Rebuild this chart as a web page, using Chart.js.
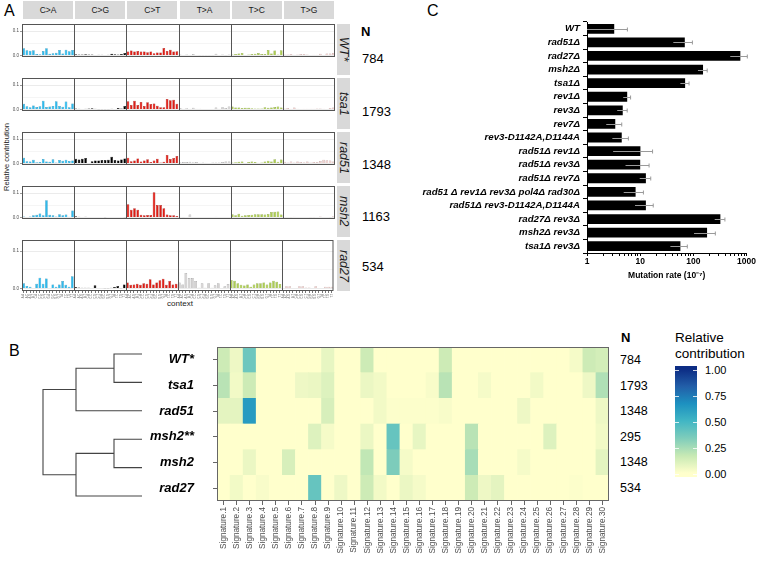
<!DOCTYPE html>
<html>
<head>
<meta charset="utf-8">
<script src="https://cdn.jsdelivr.net/npm/chart.js@4.4.0/dist/chart.umd.min.js"></script>
<style>
body { margin: 0; background: #fff; font-family: "Liberation Sans", Arial, sans-serif; }
#fig { position: relative; width: 757px; height: 561px; overflow: hidden; }
#fig canvas, #fig .t { position: absolute; }
.t { white-space: nowrap; color: #000; line-height: 1; }
</style>
</head>
<body>
<div id="fig"></div>
<script>
// ---- panel A: 96-channel spectra ----
const mutTypes = ['C>A', 'C>G', 'C>T', 'T>A', 'T>C', 'T>G'];
const contexts = ['A.A','A.C','A.G','A.T','C.A','C.C','C.G','C.T','G.A','G.C','G.G','G.T','T.A','T.C','T.G','T.T'];
const spectraNames = ['WT*', 'tsa1', 'rad51', 'msh2', 'rad27'];
const spectraN = [784, 1793, 1348, 1163, 534];

const specWT = [
  0.030,0.021,0.019,0.021,0.006,0.005,0.018,0.030,0.007,0.009,0.011,0.022,0.008,0.024,0.017,0.022,
  0.005,0.004,0.004,0.005,0.004,0.004,0.002,0.003,0.003,0.002,0.003,0.007,0.005,0.004,0.006,0.010,
  0.016,0.020,0.016,0.018,0.016,0.016,0.013,0.016,0.009,0.012,0.012,0.031,0.018,0.024,0.016,0.017,
  0.004,0.002,0.004,0.003,0.006,0.002,0.001,0.001,0.001,0.001,0.001,0.007,0.002,0.004,0.001,0.004,
  0.004,0.006,0.008,0.010,0.002,0.004,0.006,0.007,0.010,0.006,0.006,0.022,0.008,0.020,0.004,0.021,
  0.004,0.004,0.006,0.003,0.004,0.006,0.006,0.004,0.002,0.003,0.003,0.007,0.002,0.008,0.008,0.010];
const specTsa1 = [
  0.023,0.013,0.009,0.016,0.010,0.013,0.036,0.010,0.012,0.014,0.034,0.014,0.011,0.033,0.009,0.025,
  0.004,0.003,0.002,0.003,0.004,0.005,0.003,0.001,0.001,0.001,0.001,0.003,0.002,0.006,0.004,0.014,
  0.034,0.018,0.036,0.018,0.031,0.014,0.030,0.022,0.025,0.015,0.009,0.009,0.043,0.038,0.040,0.023,
  0.006,0.003,0.005,0.003,0.007,0.003,0.003,0.002,0.002,0.002,0.002,0.008,0.003,0.009,0.006,0.012,
  0.012,0.008,0.008,0.006,0.007,0.007,0.005,0.004,0.004,0.004,0.009,0.007,0.008,0.010,0.012,0.008,
  0.004,0.006,0.003,0.008,0.003,0.002,0.003,0.003,0.003,0.003,0.004,0.004,0.003,0.002,0.006,0.008];
const specRad51 = [
  0.023,0.009,0.008,0.015,0.005,0.006,0.018,0.008,0.007,0.017,0.004,0.014,0.011,0.015,0.010,0.012,
  0.019,0.016,0.019,0.022,0.002,0.009,0.012,0.012,0.014,0.014,0.015,0.028,0.014,0.012,0.016,0.020,
  0.023,0.009,0.012,0.020,0.008,0.012,0.017,0.006,0.012,0.019,0.004,0.007,0.035,0.018,0.022,0.031,
  0.005,0.006,0.006,0.007,0.005,0.006,0.003,0.004,0.003,0.002,0.004,0.004,0.004,0.006,0.008,0.008,
  0.004,0.005,0.007,0.008,0.002,0.006,0.008,0.006,0.003,0.004,0.008,0.011,0.008,0.017,0.007,0.016,
  0.007,0.004,0.008,0.004,0.008,0.006,0.005,0.008,0.004,0.006,0.006,0.010,0.015,0.013,0.012,0.008];
const specMsh2 = [
  0.004,0.000,0.004,0.009,0.011,0.016,0.009,0.071,0.011,0.009,0.004,0.013,0.009,0.012,0.003,0.029,
  0.005,0.003,0.002,0.003,0.000,0.000,0.000,0.000,0.002,0.001,0.000,0.000,0.000,0.000,0.000,0.001,
  0.054,0.032,0.038,0.032,0.011,0.009,0.010,0.010,0.104,0.051,0.051,0.038,0.012,0.009,0.009,0.006,
  0.003,0.001,0.000,0.012,0.000,0.000,0.000,0.000,0.000,0.002,0.000,0.003,0.002,0.000,0.000,0.000,
  0.013,0.009,0.015,0.007,0.009,0.010,0.011,0.013,0.013,0.013,0.012,0.014,0.022,0.023,0.025,0.012,
  0.000,0.000,0.001,0.003,0.000,0.002,0.000,0.000,0.001,0.001,0.000,0.004,0.002,0.000,0.001,0.005];
const specRad27 = [
  0.014,0.007,0.005,0.000,0.013,0.029,0.013,0.027,0.000,0.011,0.005,0.011,0.020,0.010,0.005,0.033,
  0.004,0.003,0.002,0.002,0.002,0.000,0.009,0.000,0.000,0.001,0.001,0.002,0.004,0.007,0.001,0.011,
  0.016,0.010,0.011,0.013,0.010,0.014,0.013,0.025,0.011,0.016,0.022,0.026,0.010,0.020,0.011,0.013,
  0.016,0.011,0.042,0.028,0.028,0.020,0.002,0.014,0.002,0.014,0.002,0.009,0.014,0.000,0.006,0.012,
  0.023,0.021,0.014,0.010,0.008,0.011,0.005,0.011,0.014,0.014,0.016,0.011,0.016,0.021,0.018,0.012,
  0.000,0.006,0.006,0.000,0.000,0.006,0.006,0.003,0.003,0.000,0.006,0.000,0.000,0.005,0.005,0.005];
const spectra = [specWT, specTsa1, specRad51, specMsh2, specRad27];

// ---- panel B: signature contributions ----
const sigLabels = Array.from({ length: 30 }, (_, i) => 'Signature.' + (i + 1));
const hmNames = ['WT*', 'tsa1', 'rad51', 'msh2**', 'msh2', 'rad27'];
const hmN = [784, 1793, 1348, 295, 1348, 534];
const hmWT    = [0.15,0.05,0.38,0,0,0,0,0,0.07,0,0,0.15,0,0,0,0,0,0.15,0,0,0,0,0,0,0,0,0,0.03,0.15,0.13];
const hmTsa1  = [0.20,0.04,0.15,0,0,0,0.05,0.06,0.10,0,0,0.06,0.04,0,0,0,0.02,0.20,0,0,0.03,0,0,0,0.04,0,0,0,0.05,0.22];
const hmRad51 = [0.08,0.08,0.62,0,0,0,0,0,0.12,0,0,0,0.04,0.01,0.01,0.01,0.01,0.02,0,0,0,0,0,0.05,0,0,0,0,0,0.05];
const hmMsh2s = [0,0,0,0,0,0,0,0.10,0.03,0,0,0.06,0,0.40,0,0.07,0,0,0,0.20,0,0,0,0,0,0.10,0,0,0,0.04];
const hmMsh2  = [0,0,0.06,0,0,0.12,0,0,0,0,0,0.18,0,0.34,0.03,0,0,0,0,0.24,0,0,0,0.03,0,0,0,0,0,0.08];
const hmRad27 = [0,0.04,0,0.02,0,0,0,0.40,0,0.05,0,0.15,0.04,0,0.06,0.03,0,0,0,0.15,0.05,0.08,0,0,0,0,0,0.01,0,0];
const hmRows = [hmWT, hmTsa1, hmRad51, hmMsh2s, hmMsh2, hmRad27];
// dendrogram: leaves in row order, merges = [childA, childB, height]; new nodes get ids 6, 7, ...
const dendroMerges = [[0, 1, 0.28], [6, 2, 0.66], [3, 4, 0.28], [8, 5, 0.66], [7, 9, 0.99]];

// ---- panel C: mutation rates ----
const rateStrains = ['WT', 'rad51Δ', 'rad27Δ', 'msh2Δ', 'tsa1Δ', 'rev1Δ', 'rev3Δ', 'rev7Δ',
  'rev3-D1142A,D1144A', 'rad51Δ rev1Δ', 'rad51Δ rev3Δ', 'rad51Δ rev7Δ',
  'rad51 Δ rev1Δ rev3Δ pol4Δ rad30Δ', 'rad51Δ rev3-D1142A,D1144A', 'rad27Δ rev3Δ', 'msh2Δ rev3Δ', 'tsa1Δ rev3Δ'];
const rates   = [3.25, 69, 764, 152, 70, 5.7, 4.7, 3.4, 4.5, 10.1, 10, 12.8, 8.2, 12.8, 322, 181, 57];
const rateErr = [2.5, 27, 270, 30, 13, 0.9, 1.0, 1.1, 1.5, 7, 4.7, 3, 3.3, 4.8, 70, 78, 20];

// ---------------------------------------------------------------
Chart.defaults.font.family = '"Liberation Sans", Arial, sans-serif';
Chart.defaults.animation = false;
Chart.defaults.responsive = false;
Chart.defaults.events = [];
Chart.defaults.plugins.legend.display = false;
Chart.defaults.plugins.tooltip.enabled = false;

const fig = document.getElementById('fig');
function makeCanvas(x, y, w, h) {
  const c = document.createElement('canvas');
  c.width = w; c.height = h;
  c.style.left = x + 'px'; c.style.top = y + 'px';
  c.style.width = w + 'px'; c.style.height = h + 'px';
  fig.appendChild(c);
  return c;
}
function text(str, x, y, css) {
  const d = document.createElement('div');
  d.className = 't';
  d.textContent = str;
  d.style.left = x + 'px';
  d.style.top = y + 'px';
  if (css) d.style.cssText += css;
  fig.appendChild(d);
  return d;
}
// keep tick labels from pushing the plot area around
function noPad(s) { s.paddingTop = 0; s.paddingBottom = 0; }

// ================= A =================
const mutColors = ['#2EBAED', '#000000', '#DE1C14', '#D4D2D2', '#ADCC54', '#F0D0CE'];
const mutEdges  = ['#1b86ad', '#000000', '#9c1510', '#8c8c8c', '#7c9a34', '#b89896'];
const rowTop = 24, rowPitch = 54, rowH = 51;
const plotL = 22, plotR = 335;
const facetW = (plotR - plotL) / 6;

text('A', 4, 3, 'font-size:16px;');
mutTypes.forEach((m, k) => {
  text(m, plotL + k * facetW + 1, 1,
    `width:${facetW - 2}px;height:18px;line-height:18px;text-align:center;background:#d9d9d9;font-size:8.5px;color:#1a1a1a;`);
});
text('N', 361, 25, 'font-size:13px;font-weight:bold;');
text('Relative contribution', 7, 157, 'font-size:7.5px;color:#1a1a1a;transform:translate(-50%,-50%) rotate(-90deg);');
text('context', 180, 304, 'font-size:8px;color:#1a1a1a;transform:translate(-50%,-50%);');

const facetFrame = {
  id: 'facetFrame',
  afterDatasetsDraw(chart) {
    const { ctx, chartArea: a, scales: { x } } = chart;
    ctx.save();
    ctx.strokeStyle = '#555';
    ctx.lineWidth = 1;
    ctx.strokeRect(a.left + 0.5, a.top + 0.5, a.right - a.left - 1, a.bottom - a.top - 1);
    ctx.beginPath();
    for (let k = 1; k < 6; k++) {
      const px = Math.round(x.getPixelForValue(16 * k - 0.5)) + 0.5;
      ctx.moveTo(px, a.top); ctx.lineTo(px, a.bottom);
    }
    ctx.stroke();
    ctx.restore();
  }
};

const channelLabels = [];
mutTypes.forEach(() => contexts.forEach(c => channelLabels.push(c)));

spectra.forEach((vals, i) => {
  const top = rowTop + i * rowPitch;
  const last = i === spectra.length - 1;
  const cv = makeCanvas(0, top, 336, rowH + (last ? 18 : 0));
  new Chart(cv, {
    type: 'bar',
    data: {
      labels: channelLabels,
      datasets: [{
        data: vals,
        backgroundColor: vals.map((v, k) => mutColors[Math.floor(k / 16)]),
        borderColor: vals.map((v, k) => mutEdges[Math.floor(k / 16)]),
        borderWidth: 0.5,
        borderSkipped: 'bottom',
        barPercentage: 0.82,
        categoryPercentage: 1
      }]
    },
    options: {
      layout: { padding: { right: 1 } },
      scales: {
        x: {
          display: last,
          grid: { display: true, drawOnChartArea: false, offset: false, tickLength: 2, color: '#777' },
          border: { display: false },
          ticks: { autoSkip: false, minRotation: 90, maxRotation: 90, font: { size: 2.6 }, color: '#666', padding: 1 },
          afterFit: s => { s.height = 18; }
        },
        y: {
          min: -0.0065, max: 0.13,
          afterBuildTicks: s => { s.ticks = [0, 0.05, 0.1].map(v => ({ value: v })); },
          ticks: { callback: v => (v === 0.05 ? '' : v.toFixed(1)), font: { size: 4.5 }, color: '#4d4d4d', padding: 1 },
          grid: {
            color: c => (c.tick && c.tick.value === 0.05 ? '#f5f5f5' : '#ebebeb'),
            tickColor: c => (c.tick && c.tick.value === 0.05 ? 'rgba(0,0,0,0)' : '#999'),
            tickLength: 2
          },
          border: { display: false },
          afterFit: s => { s.width = plotL; noPad(s); }
        }
      }
    },
    plugins: [facetFrame]
  });
  text(spectraNames[i], 337, top, `width:13px;height:${rowH}px;background:#d9d9d9;font-size:12.5px;font-style:italic;color:#1a1a1a;writing-mode:vertical-rl;text-align:center;line-height:13px;`);
});
[58, 111, 164, 216, 266].forEach((y, i) => {
  text(String(spectraN[i]), 362, y, 'font-size:13px;transform:translateY(-50%);');
});

// ================= B =================
text('B', 9, 343, 'font-size:16px;');

// YlGnBu
const ylgnbu = ['#ffffcc', '#c7e9b4', '#7fcdbb', '#41b6c4', '#1d91c0', '#225ea8', '#0c2c84'];
function hex2rgb(h) { return [1, 3, 5].map(i => parseInt(h.slice(i, i + 2), 16)); }
function fillColor(v) {
  const t = Math.max(0, Math.min(1, v)) * (ylgnbu.length - 1);
  const i = Math.min(Math.floor(t), ylgnbu.length - 2);
  const f = t - i;
  const a = hex2rgb(ylgnbu[i]), b = hex2rgb(ylgnbu[i + 1]);
  return 'rgb(' + a.map((c, k) => Math.round(c + (b[k] - c) * f)).join(',') + ')';
}

const frame = {
  id: 'frame',
  afterDraw(chart) {
    const { ctx, chartArea: a } = chart;
    ctx.save();
    ctx.strokeStyle = '#666';
    ctx.lineWidth = 1;
    ctx.strokeRect(Math.round(a.left) + 0.5, Math.round(a.top) + 0.5, Math.round(a.right - a.left) - 1, Math.round(a.bottom - a.top) - 1);
    ctx.restore();
  }
};

// heatmap: stacked unit bars, coloured by value (bottom dataset = last row)
new Chart(makeCanvas(100, 340, 515, 221), {
  type: 'bar',
  data: {
    labels: sigLabels,
    datasets: hmRows.slice().reverse().map(row => ({
      data: row.map(() => 1),
      backgroundColor: row.map(fillColor),
      borderWidth: 0,
      barPercentage: 1,
      categoryPercentage: 1
    }))
  },
  options: {
    layout: { padding: { top: 7, right: 6 } },
    scales: {
      x: {
        stacked: true,
        grid: { drawOnChartArea: false, offset: false, tickLength: 4, color: '#666' },
        border: { display: false },
        ticks: { autoSkip: false, minRotation: 90, maxRotation: 90, font: { size: 8.2 }, color: '#4d4d4d', padding: 2 },
        afterFit: s => { s.height = 60; s.paddingLeft = 0; s.paddingRight = 0; }
      },
      y: {
        stacked: true, min: 0, max: hmRows.length,
        afterBuildTicks: s => { s.ticks = hmRows.map((r, i) => ({ value: i + 0.5 })); },
        ticks: {
          callback: (v, i) => hmNames[hmRows.length - 1 - i],
          font: { size: 13, weight: 'bold', style: 'italic' }, color: '#000', padding: 19
        },
        grid: { drawOnChartArea: false, tickLength: 4, color: '#666' },
        border: { display: false },
        afterFit: s => { s.width = 117; noPad(s); }
      }
    }
  },
  plugins: [frame]
});

// dendrogram
const nodeY = hmNames.map((n, i) => i);
const nodeH = hmNames.map(() => 0);
const dendroSets = dendroMerges.map(([a, b, h]) => {
  nodeY.push((nodeY[a] + nodeY[b]) / 2);
  nodeH.push(h);
  return {
    data: [{ x: nodeH[a], y: nodeY[a] }, { x: h, y: nodeY[a] }, { x: h, y: nodeY[b] }, { x: nodeH[b], y: nodeY[b] }],
    showLine: true, borderColor: '#444', borderWidth: 1.1, pointRadius: 0, clip: false, tension: 0
  };
});
new Chart(makeCanvas(30, 340, 125, 170), {
  type: 'scatter',
  data: { datasets: dendroSets },
  options: {
    layout: { padding: { left: 13, right: 13, top: 14, bottom: 14 } },
    scales: {
      x: { display: false, min: 0, max: Math.max(...nodeH), reverse: true },
      y: { display: false, min: 0, max: hmNames.length - 1, reverse: true }
    }
  }
});

text('N', 621, 331, 'font-size:13px;font-weight:bold;');
hmN.forEach((n, i) => {
  text(String(n), 620, 360 + i * 25.6, 'font-size:12.5px;transform:translateY(-50%);');
});

// colour legend
text('Relative', 675, 338, 'font-size:13.5px;transform:translateY(-50%);');
text('contribution', 675, 354, 'font-size:13.5px;transform:translateY(-50%);');
text('', 675, 366, 'width:22px;height:111px;background:linear-gradient(to top,' +
  ylgnbu.map((c, i) => `${c} ${(4 + i * 104 / (ylgnbu.length - 1)).toFixed(1)}px`).join(',') + ');');
['1.00', '0.75', '0.50', '0.25', '0.00'].forEach((s, i) => {
  const y = 370 + i * 26;
  text(s, 705, y, 'font-size:11px;transform:translateY(-50%);');
  text('', 675, y, 'width:4px;height:1px;background:#fff;opacity:0.8;');
  text('', 693, y, 'width:4px;height:1px;background:#fff;opacity:0.8;');
});

// ================= C =================
text('C', 427, 3, 'font-size:16px;');

const errorBars = {
  id: 'errorBars',
  afterDatasetsDraw(chart) {
    const { ctx, scales: { x } } = chart;
    const meta = chart.getDatasetMeta(0);
    ctx.save();
    ctx.strokeStyle = '#9a9a9a';
    ctx.lineWidth = 1;
    ctx.beginPath();
    meta.data.forEach((b, i) => {
      const lo = x.getPixelForValue(Math.max(1, rates[i] - rateErr[i]));
      const hi = x.getPixelForValue(rates[i] + rateErr[i]);
      const y = Math.round(b.y) + 0.5;
      ctx.moveTo(lo, y); ctx.lineTo(hi, y);
      ctx.moveTo(hi, y - 2); ctx.lineTo(hi, y + 2);
    });
    ctx.stroke();
    ctx.restore();
  }
};

new Chart(makeCanvas(390, 14, 367, 267), {
  type: 'bar',
  data: {
    labels: rateStrains,
    datasets: [{ data: rates, backgroundColor: '#000', barPercentage: 0.72, categoryPercentage: 1 }]
  },
  options: {
    indexAxis: 'y',
    layout: { padding: { top: 8, right: 10 } },
    scales: {
      x: {
        type: 'logarithmic', min: 1, max: 1000,
        afterBuildTicks: s => {
          const t = [];
          for (let d = 1; d < 1000; d *= 10) for (let m = 1; m < 10; m++) t.push({ value: d * m });
          t.push({ value: 1000 });
          s.ticks = t;
        },
        ticks: {
          autoSkip: false, maxRotation: 0,
          callback: v => ([1, 10, 100, 1000].includes(v) ? String(v) : ''),
          font: { size: 8.5, weight: 'bold' }, color: '#000', padding: 1
        },
        grid: { drawOnChartArea: false, tickLength: 3, color: '#000' },
        border: { color: '#000' },
        title: { display: true, text: 'Mutation rate (10⁻⁷)', font: { size: 8.5, weight: 'bold' }, color: '#000', padding: 0 },
        afterFit: s => { s.height = 28; }
      },
      y: {
        grid: { drawOnChartArea: false, tickLength: 4, color: '#000' },
        border: { color: '#000' },
        ticks: { autoSkip: false, font: { size: 9.7, weight: 'bold', style: 'italic' }, color: '#000', padding: 3 },
        afterFit: s => { s.width = 197; noPad(s); }
      }
    }
  },
  plugins: [errorBars]
});
</script>
</body>
</html>
